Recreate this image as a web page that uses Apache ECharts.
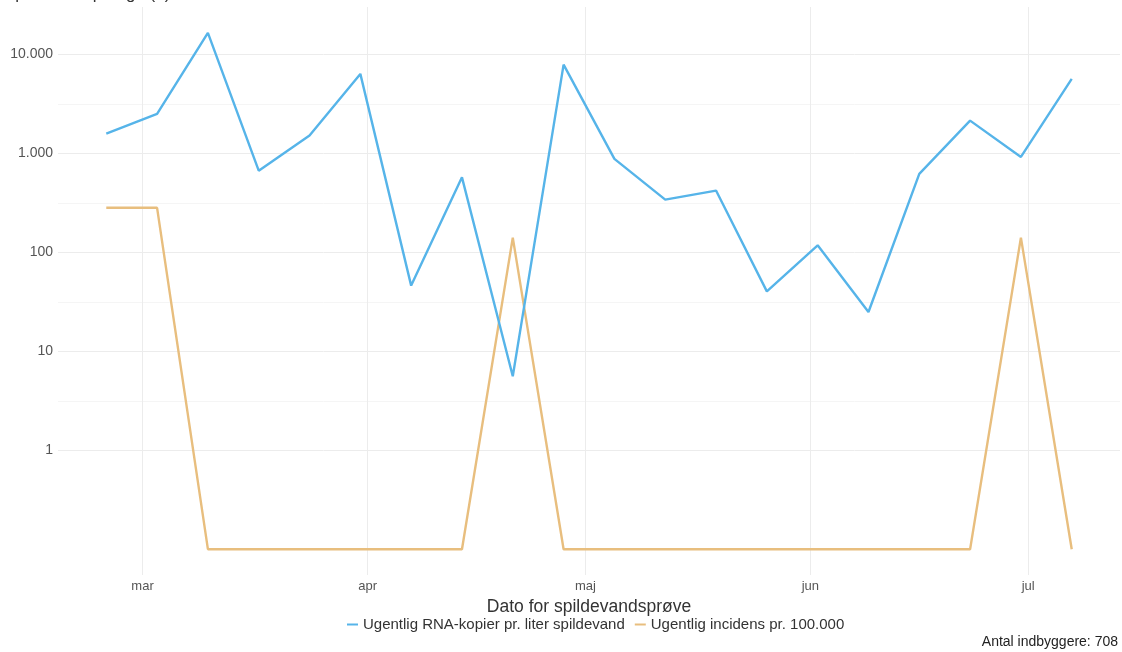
<!DOCTYPE html>
<html>
<head>
<meta charset="utf-8">
<script src="https://cdn.jsdelivr.net/npm/echarts@6/dist/echarts.min.js"></script>
<style>
  html, body { margin: 0; padding: 0; background: #fff; }
  #chart { width: 1122px; height: 652px; }
</style>
</head>
<body>
<div id="chart"></div>
<script>
// weekly wastewater samples
var dates = ['2021-02-24', '2021-03-03', '2021-03-10', '2021-03-17', '2021-03-24',
  '2021-03-31', '2021-04-07', '2021-04-14', '2021-04-21', '2021-04-28',
  '2021-05-05', '2021-05-12', '2021-05-19', '2021-05-26', '2021-06-02',
  '2021-06-09', '2021-06-16', '2021-06-23', '2021-06-30', '2021-07-07'];
var rnaKopier = [1590, 2510, 16600, 671, 1520, 6380, 46.2, 574, 5.6, 7920,
  882, 342, 422, 40.4, 118, 25.0, 622, 2150, 924, 5680];
var incidens = [282.5, 282.5, 0.1, 0.1, 0.1, 0.1, 0.1, 0.1, 141.2, 0.1,
  0.1, 0.1, 0.1, 0.1, 0.1, 0.1, 0.1, 0.1, 141.2, 0.1];

var yMajor = [1, 10, 100, 1000, 10000];
var yMinor = [3.1623, 31.623, 316.23, 3162.3];
var monthTicks = ['2021-03-01', '2021-04-01', '2021-05-01', '2021-06-01', '2021-07-01'];
var monthNames = ['jan', 'feb', 'mar', 'apr', 'maj', 'jun', 'jul', 'aug', 'sep', 'okt', 'nov', 'dec'];

var seriesNames = ['Ugentlig RNA-kopier pr. liter spildevand', 'Ugentlig incidens pr. 100.000'];

function toTime(s) {
  var p = s.split('-');
  return new Date(+p[0], +p[1] - 1, +p[2]).getTime();
}

var times = dates.map(toTime);
var monthTimes = monthTicks.map(toTime);
// ggplot style 5% expansion
var xSpan = times[times.length - 1] - times[0];
var xMin = times[0] - xSpan * 0.05;
var xMax = times[times.length - 1] + xSpan * 0.05;

var allVals = rnaKopier.concat(incidens);
var lo = Math.log10(Math.min.apply(null, allVals));
var hi = Math.log10(Math.max.apply(null, allVals));
var yMin = Math.pow(10, lo - (hi - lo) * 0.05);
var yMax = Math.pow(10, hi + (hi - lo) * 0.05);

function pairs(vals) {
  return vals.map(function (v, i) { return [times[i], v]; });
}

var myChart = echarts.init(document.getElementById('chart'));

var option = {
  animation: false,
  textStyle: { fontFamily: 'Liberation Sans, Arial, sans-serif' },
  grid: { left: 58, right: 2, top: 7, bottom: 77 },
  legend: {
    bottom: 15,
    left: 342,
    icon: 'rect',
    itemWidth: 11,
    itemHeight: 2,
    itemGap: 10,
    textStyle: { fontSize: 15, color: '#333' },
    data: seriesNames
  },
  graphic: [
    {
      // y axis title, cut off at the top edge like the original
      type: 'text',
      x: 4,
      y: 3,
      style: {
        text: 'Spildevand pr. uge (?)', fontSize: 17, fill: '#333',
        verticalAlign: 'bottom',
        fontFamily: 'Liberation Sans, Arial, sans-serif'
      }
    },
    {
      type: 'text',
      right: 4,
      bottom: 3,
      style: { text: 'Antal indbyggere: 708', fontSize: 14, fill: '#222', fontFamily: 'Liberation Sans, Arial, sans-serif' }
    }
  ],
  xAxis: {
    type: 'value',
    min: xMin,
    max: xMax,
    name: 'Dato for spildevandsprøve',
    nameLocation: 'middle',
    nameGap: 21,
    nameTextStyle: { fontSize: 17.5, color: '#333' },
    axisLine: { show: false },
    axisTick: { show: false, customValues: monthTimes },
    axisLabel: {
      customValues: monthTimes,
      fontSize: 13,
      color: '#555',
      margin: 5,
      formatter: function (v) { return monthNames[new Date(v).getMonth()]; }
    },
    splitLine: { show: true, lineStyle: { color: '#ececec', width: 1 } }
  },
  yAxis: [
    {
      type: 'log',
      min: yMin,
      max: yMax,
      axisLine: { show: false },
      axisTick: { show: false, customValues: yMajor },
      axisLabel: {
        customValues: yMajor,
        fontSize: 14,
        color: '#555',
        margin: 5,
        formatter: function (v) { return Math.round(v).toLocaleString('da-DK'); }
      },
      splitLine: { show: true, lineStyle: { color: '#ececec', width: 1 } }
    },
    {
      type: 'log',
      min: yMin,
      max: yMax,
      position: 'left',
      axisLine: { show: false },
      axisTick: { show: false, customValues: yMinor },
      axisLabel: { show: false, customValues: yMinor },
      splitLine: { show: true, lineStyle: { color: '#f5f5f5', width: 1 } }
    }
  ],
  series: [
    {
      name: seriesNames[0],
      type: 'line',
      data: pairs(rnaKopier),
      showSymbol: false,
      itemStyle: { color: '#56B4E9' },
      lineStyle: { color: '#56B4E9', width: 2.4 },
      z: 3
    },
    {
      name: seriesNames[1],
      type: 'line',
      data: pairs(incidens),
      showSymbol: false,
      itemStyle: { color: '#E8BE7E' },
      lineStyle: { color: '#E8BE7E', width: 2.4 },
      z: 2
    }
  ]
};
myChart.setOption(option);
</script>
</body>
</html>
